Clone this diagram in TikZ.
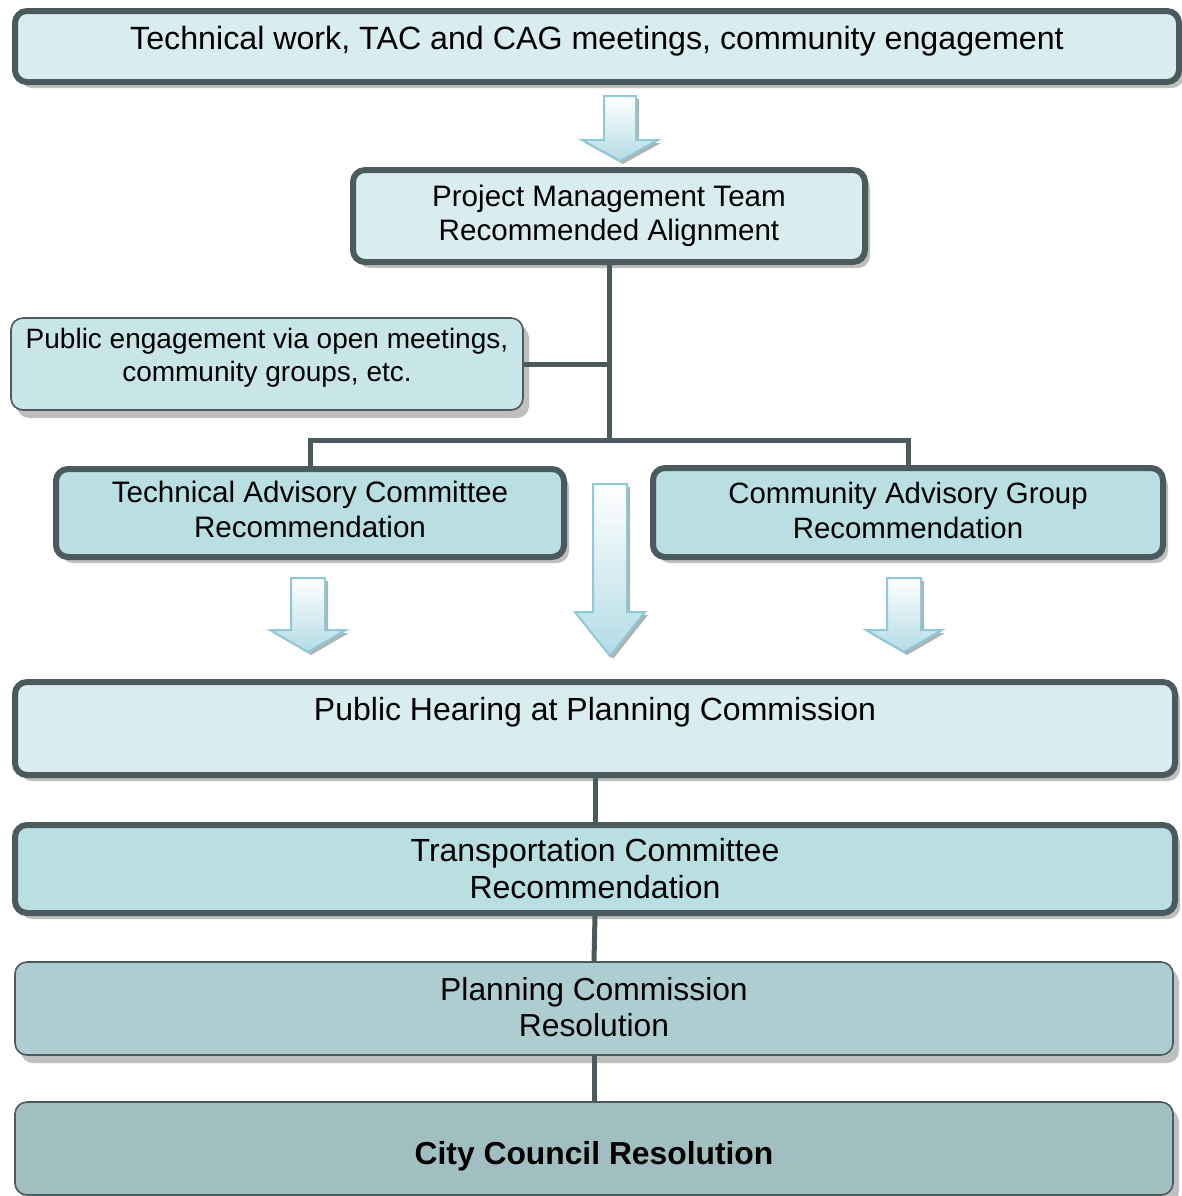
\documentclass[tikz,border=0pt]{standalone}
\usepackage{fontspec}
\setmainfont{Liberation Sans}
\usetikzlibrary{shadows}

\definecolor{edge}{HTML}{4B5A5C}
\definecolor{paleblue}{HTML}{D9EDF0}
\definecolor{midblue}{HTML}{B9DFE3}
\definecolor{peblue}{HTML}{C8E5E8}
\definecolor{pcblue}{HTML}{ADCDD0}
\definecolor{ccblue}{HTML}{A1BEC1}
\definecolor{arrowline}{HTML}{8DC9D6}
\definecolor{arrowfill}{HTML}{B3DCE5}

% block arrow: x, top, head, tip, half shaft, half head
\newcommand{\flowarrow}[6]{%
    \draw[blockarrow] (#1-#5,#2) -- (#1+#5,#2) -- (#1+#5,#3) -- (#1+#6,#3)
        -- (#1,#4) -- (#1-#6,#3) -- (#1-#5,#3) -- cycle;}

\begin{document}
\begin{tikzpicture}[x=0.5pt,y=-0.5pt,
        box/.style={draw=edge, line width=3pt, rounded corners=6pt,
                        align=center, inner sep=0pt,
                        drop shadow={shadow xshift=2.5pt, shadow yshift=-3pt,
                                        fill=black!25, opacity=1}},
        softbox/.style={box, line width=0.8pt,
                        drop shadow={shadow xshift=3pt, shadow yshift=-4pt,
                                        fill=black!25, opacity=1}},
        link/.style={draw=edge, line width=2.5pt},
        blockarrow/.style={draw=arrowline, line width=1pt, top color=white,
                        bottom color=arrowfill,
                        drop shadow={shadow xshift=1.5pt, shadow yshift=-1.5pt,
                                        fill=black!30, opacity=1}}]
    \useasboundingbox (0,0) rectangle (1182,1196);

    \node[box, fill=paleblue, minimum width=582pt, text height=19pt, text depth=16.5pt,
          font=\fontsize{16.1}{18}\selectfont]
        (work) at (597,46.5) {Technical work, TAC and CAG meetings, community engagement};
    \node[box, fill=paleblue, minimum width=256pt, minimum height=46pt,
          font=\fontsize{14.8}{17}\selectfont]
        (pmt) at (609,216) {Project Management Team\\Recommended Alignment};
    \node[softbox, fill=peblue, minimum width=256pt, minimum height=46pt, text depth=9pt,
          font=\fontsize{14}{16.5}\selectfont]
        (public) at (267,364) {Public engagement via open meetings,\\community groups, etc.};
    \node[box, fill=midblue, minimum width=254pt, minimum height=44pt, text depth=4pt,
          font=\fontsize{14.8}{17.5}\selectfont]
        (tac) at (310,513) {Technical Advisory Committee\\Recommendation};
    \node[box, fill=midblue, minimum width=255pt, minimum height=44.5pt, text depth=2pt,
          font=\fontsize{14.7}{17.5}\selectfont]
        (cag) at (908,512.5) {Community Advisory Group\\Recommendation};
    \node[box, fill=paleblue, minimum width=580pt, text height=19pt, text depth=27.5pt,
          font=\fontsize{16}{18}\selectfont]
        (hearing) at (595,728.5) {Public Hearing at Planning Commission};
    \node[box, fill=midblue, minimum width=580pt, minimum height=44pt,
          font=\fontsize{16}{18.5}\selectfont]
        (transport) at (595,869) {Transportation Committee\\Recommendation};
    \node[softbox, fill=pcblue, minimum width=579pt, minimum height=46.5pt, text depth=1.5pt,
          font=\fontsize{15.9}{18}\selectfont]
        (resolution) at (594,1008.5) {Planning Commission\\Resolution};
    \node[softbox, fill=ccblue, minimum width=579pt, text height=31pt, text depth=15.5pt,
          font=\fontsize{15.9}{18}\selectfont\bfseries]
        (council) at (594,1148.5) {City Council Resolution};

    % tree below the team's alignment
    \coordinate (split) at (pmt.south |- 0,440);
    \draw[link] (pmt.south) -- (split);
    \draw[link] (public.east) -- (public.east -| split);
    \draw[link] (tac.north) |- (split) -| (cag.north);

    % chain at the bottom
    \draw[link] (hearing.south) -- (transport.north);
    \draw[link] (transport.south) -- (resolution.north);
    \draw[link] (resolution.south) -- (council.north);

    \flowarrow{620}{96}{140}{161}{16}{38}
    \flowarrow{308}{578}{630}{652}{17}{38}
    \flowarrow{610}{484}{612}{656}{17}{35}
    \flowarrow{904}{578}{630}{652}{17}{38}
\end{tikzpicture}
\end{document}
